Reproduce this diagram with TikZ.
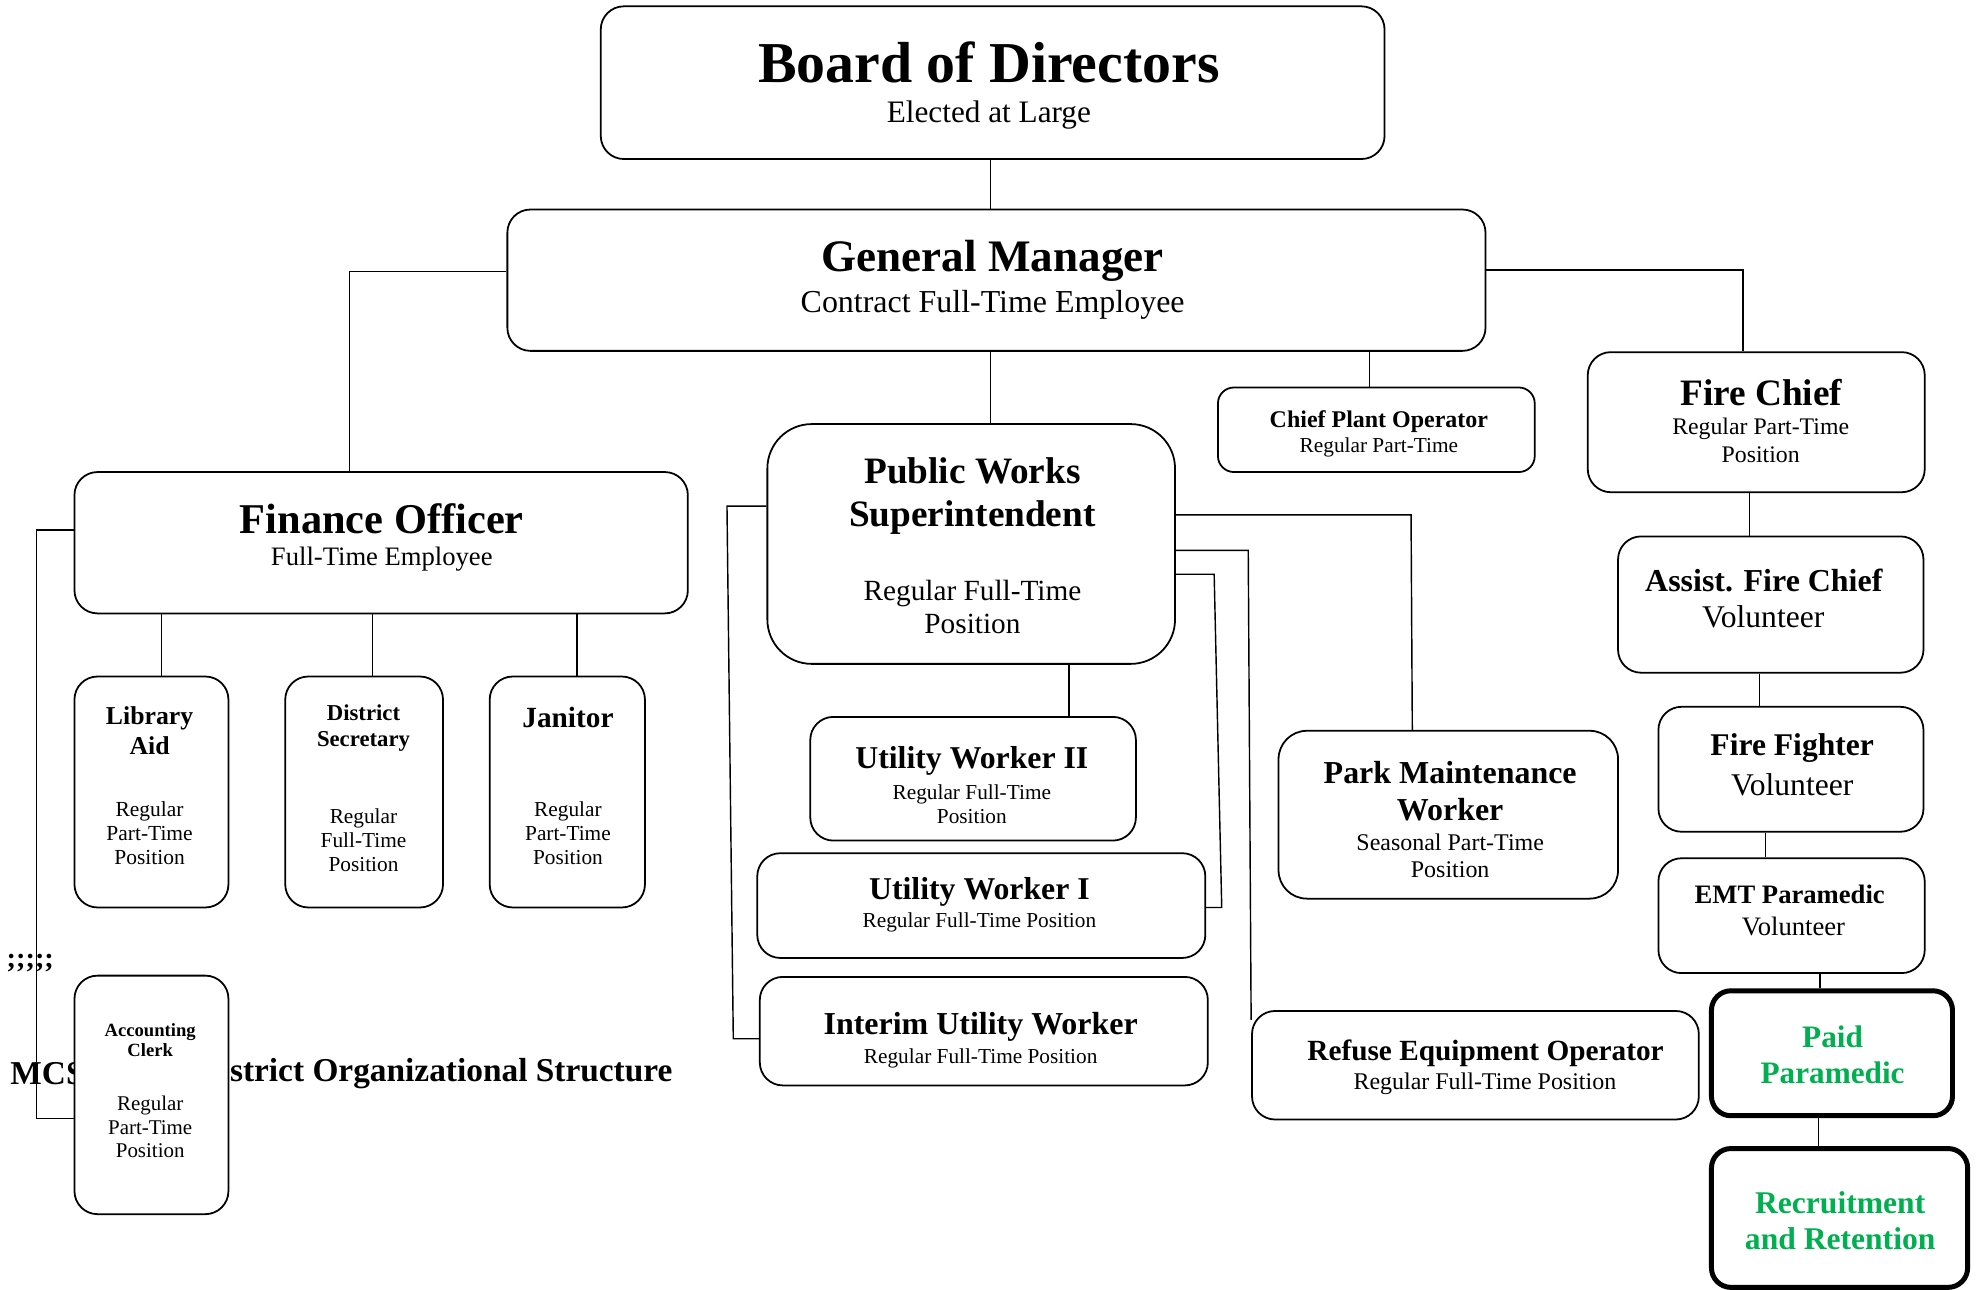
\documentclass[tikz,border=0pt]{standalone}
\usepackage{fontspec}
\setmainfont{Liberation Serif}
\usetikzlibrary{fit}
\definecolor{paidgreen}{RGB}{0,176,80}
\newcommand{\fsz}[2]{\fontsize{#1pt}{#2pt}\selectfont}

\tikzset{
  frame/.style = {draw, rounded corners=13pt, line width=1pt, fill=white, inner sep=0pt},
  heavy/.style = {frame, line width=2.8pt, rounded corners=11pt},
  lbl/.style = {inner sep=0pt, align=center, yshift=-2pt},
  link/.style = {line width=0.8pt},
}

\begin{document}
\begin{tikzpicture}[x=0.025cm, y=-0.025cm]
  \useasboundingbox (0,0) rectangle (1568,1022);

  % caption line, half covered by the clerk box
  \node[lbl, anchor=west, font=\fsz{18.8}{22}\bfseries] (cap1) at (8,848) {MCS};
  \node[lbl, anchor=west, font=\fsz{18.8}{22}\bfseries] (cap2) at (182,848) {strict Organizational Structure};
  \node[lbl, font=\fsz{16}{18}\bfseries] (semi) at (24,760) {;;;;;};

  % boxes
  \node[frame, fit={(476,5) (1097,126)}] (board) {};
  \node[frame, fit={(402,166) (1177,278)}] (gm) {};
  \node[frame, fit={(59,374) (545,486)}] (fin) {};
  \node[frame, fit={(59,536) (181,719)}] (lib) {};
  \node[frame, fit={(226,536) (351,719)}] (sec) {};
  \node[frame, fit={(388,536) (511,719)}] (jan) {};
  \node[frame, fit={(59,773) (181,962)}] (acc) {};
  \node[frame, rounded corners=25pt, fit={(608,336) (931,526)}] (pws) {};
  \node[frame, fit={(642,568) (900,666)}] (uw2) {};
  \node[frame, fit={(600,676) (955,759)}] (uw1) {};
  \node[frame, fit={(602,774) (957,860)}] (iuw) {};
  \node[frame, rounded corners=9pt, fit={(965,307) (1216,374)}] (cpo) {};
  \node[frame, rounded corners=16pt, fit={(1013,579) (1282,712)}] (park) {};
  \node[frame, fit={(992,801) (1346,887)}] (ref) {};
  \node[frame, fit={(1258,279) (1525,390)}] (fc) {};
  \node[frame, fit={(1282,425) (1524,533)}] (afc) {};
  \node[frame, fit={(1314,560) (1524,659)}] (ff) {};
  \node[frame, fit={(1314,680) (1525,771)}] (emt) {};
  \node[heavy, fit={(1356,785) (1547,884)}] (paid) {};
  \node[heavy, fit={(1356,910) (1559,1020)}] (rec) {};

  % texts
  \node[lbl, font=\fsz{32.6}{36}\bfseries] (board-t) at (783.5,47) {Board of Directors};
  \node[lbl, font=\fsz{17.6}{20}] (board-s) at (783.5,88) {Elected at Large};
  \node[lbl, font=\fsz{25.4}{28}\bfseries] (gm-t) at (786.5,204) {General Manager};
  \node[lbl, font=\fsz{18}{20}] (gm-s) at (786.5,239) {Contract Full-Time Employee};
  \node[lbl, font=\fsz{23.9}{26}\bfseries] (fin-t) at (302.5,408) {Finance Officer};
  \node[lbl, font=\fsz{15}{17}] (fin-s) at (302.5,440) {Full-Time Employee};
  \node[lbl, font=\fsz{14.5}{17}\bfseries] (lib-t) at (118.5,576) {Library\\Aid};
  \node[lbl, font=\fsz{12.1}{13.5}] (lib-s) at (118.5,657) {Regular\\Part-Time\\Position};
  \node[lbl, font=\fsz{12.8}{15}\bfseries] (sec-t) at (288,574) {District\\Secretary};
  \node[lbl, font=\fsz{12}{13.5}] (sec-s) at (288,663) {Regular\\Full-Time\\Position};
  \node[lbl, font=\fsz{16.5}{18}\bfseries] (jan-t) at (450,566) {Janitor};
  \node[lbl, font=\fsz{12}{13.5}] (jan-s) at (450,657) {Regular\\Part-Time\\Position};
  \node[lbl, font=\fsz{10.5}{11.4}\bfseries] (acc-t) at (119,821) {Accounting\\Clerk};
  \node[lbl, font=\fsz{11.8}{13.5}] (acc-s) at (119,890) {Regular\\Part-Time\\Position};
  \node[lbl, font=\fsz{21}{24.2}\bfseries] (pws-t) at (770.5,390) {Public Works\\Superintendent};
  \node[lbl, font=\fsz{16.5}{18.5}] (pws-s) at (770.5,478) {Regular Full-Time\\Position};
  \node[lbl, font=\fsz{17.9}{20}\bfseries] (uw2-t) at (770,600) {Utility Worker II};
  \node[lbl, font=\fsz{12}{13.5}] (uw2-s) at (770,634) {Regular Full-Time\\Position};
  \node[lbl, font=\fsz{17.9}{20}\bfseries] (uw1-t) at (776,704) {Utility Worker I};
  \node[lbl, font=\fsz{12}{13.5}] (uw1-s) at (776,728) {Regular Full-Time Position};
  \node[lbl, font=\fsz{18}{20}\bfseries] (iuw-t) at (777,811) {Interim Utility Worker};
  \node[lbl, font=\fsz{12}{13.5}] (iuw-s) at (777,836) {Regular Full-Time Position};
  \node[lbl, font=\fsz{13.5}{15}\bfseries] (cpo-t) at (1092.5,331) {Chief Plant Operator};
  \node[lbl, font=\fsz{12}{13.5}] (cpo-s) at (1092.5,352) {Regular Part-Time};
  \node[lbl, font=\fsz{18}{20.6}\bfseries] (park-t) at (1149,624) {Park Maintenance\\Worker};
  \node[lbl, font=\fsz{13.5}{15}] (park-s) at (1149,675) {Seasonal Part-Time\\Position};
  \node[lbl, font=\fsz{16.5}{18}\bfseries] (ref-t) at (1177,832) {Refuse Equipment Operator};
  \node[lbl, font=\fsz{13.5}{15}] (ref-s) at (1176.5,856) {Regular Full-Time Position};
  \node[lbl, font=\fsz{21}{23}\bfseries] (fc-t) at (1395.5,308) {Fire Chief};
  \node[lbl, font=\fsz{13.4}{15.6}] (fc-s) at (1395,346) {Regular Part-Time\\Position};
  \node[lbl, font=\fsz{18}{20}\bfseries] (afc-t) at (1397.5,457) {Assist. Fire Chief};
  \node[lbl, font=\fsz{17.8}{20}] (afc-s) at (1397,486) {Volunteer};
  \node[lbl, font=\fsz{17.8}{20}\bfseries] (ff-t) at (1420,590) {Fire Fighter};
  \node[lbl, font=\fsz{17.8}{20}] (ff-s) at (1420,619) {Volunteer};
  \node[lbl, font=\fsz{15}{17}\bfseries] (emt-t) at (1418,706) {EMT Paramedic};
  \node[lbl, font=\fsz{15}{17}] (emt-s) at (1421,731) {Volunteer};
  \node[lbl, text=paidgreen, font=\fsz{17.6}{20.6}\bfseries] (paid-t) at (1452,833) {Paid\\Paramedic};
  \node[lbl, text=paidgreen, font=\fsz{17.8}{20.6}\bfseries] (rec-t) at (1458,964.5) {Recruitment\\and Retention};

  % reporting lines
  \draw[link] (board.south -| 785,0) -- (gm.north -| 785,0);
  \draw[link] (gm.west |- 0,215) -| (fin.north -| 277,0);
  \draw[link] (gm.south -| 785,0) -- (pws.north -| 785,0);
  \draw[link] (gm.south -| 1085,0) -- (cpo.north -| 1085,0);
  \draw[link] (gm.east |- 0,214) -| (fc.north -| 1381,0);
  \foreach \n/\x in {lib/128, sec/295, jan/457}
    \draw[link] (fin.south -| \x,0) -- (\n.north -| \x,0);
  \draw[link] (fin.west |- 0,420) -| (29,886) -- (acc.west |- 0,886);
  \draw[link] (pws.west |- 0,401) -- (576,401) -- (581,823) -- (iuw.west |- 0,823);
  \draw[link] (pws.south -| 847,0) -- (uw2.north -| 847,0);
  \draw[link] (pws.east |- 0,408) -- (1118,408) -- (park.north -| 1119,0);
  \draw[link] (pws.east |- 0,436) -- (989,436) -- (ref.west |- 0,808);
  \draw[link] (pws.east |- 0,455) -- (962,455) -- (968,719) -- (uw1.east |- 0,719);
  \draw[link] (fc.south -| 1386,0) -- (afc.north -| 1386,0);
  \draw[link] (afc.south -| 1394,0) -- (ff.north -| 1394,0);
  \draw[link] (ff.south -| 1399,0) -- (emt.north -| 1399,0);
  \draw[link] (emt.south -| 1442,0) -- (paid.north -| 1442,0);
  \draw[link] (paid.south -| 1441,0) -- (rec.north -| 1441,0);
\end{tikzpicture}
\end{document}
